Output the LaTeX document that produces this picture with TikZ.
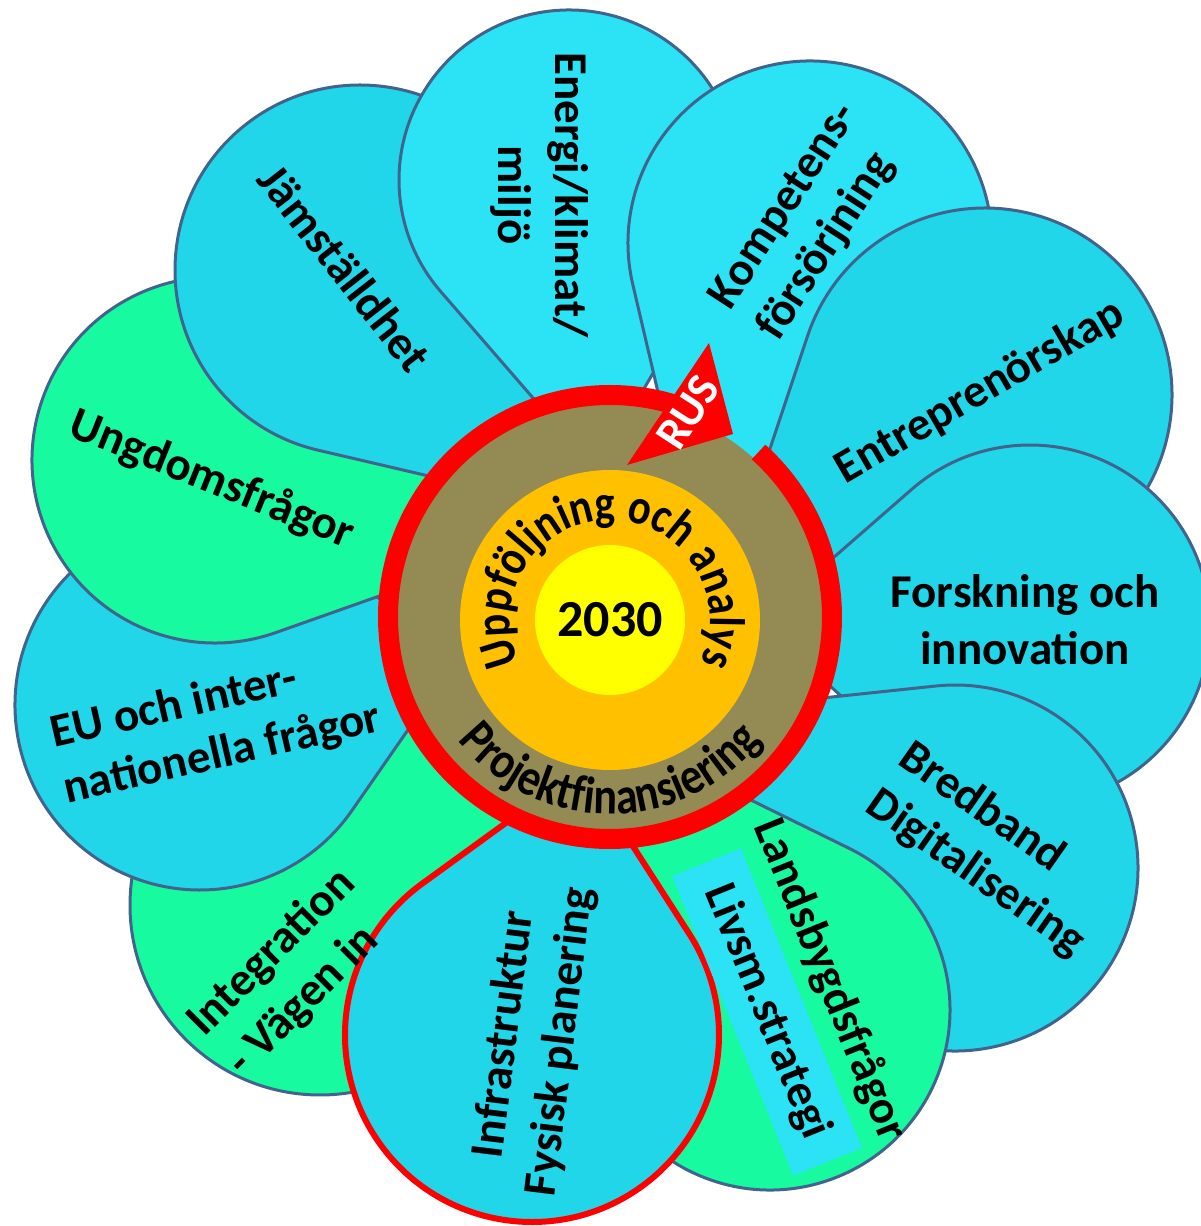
\documentclass[tikz,border=0pt]{standalone}
\usepackage{fontspec}
\setmainfont{Carlito}
\newfontfamily\archfont{Carlito}[FakeStretch=0.85]
\usetikzlibrary{decorations.text}

\definecolor{petalblue}{HTML}{22D6EA}
\definecolor{petalcyan}{HTML}{2CE3F6}
\definecolor{petalgreen}{HTML}{17FAA0}
\definecolor{petalline}{HTML}{41648C}
\definecolor{hubbrown}{HTML}{948A54}
\definecolor{huborange}{HTML}{FFC000}
\definecolor{hubyellow}{HTML}{FFFF00}
\definecolor{rusred}{HTML}{FF0000}

\tikzset{
	petal/.style={line join=round},
	petaltext/.style={font=\bfseries\fontsize{47}{57}\selectfont, align=center},
}

\begin{document}
\begin{tikzpicture}[x=1pt,y=1pt]
	\useasboundingbox (-610,-606) rectangle (591,620);
	% petals, drawn from the one lying lowest to the one on top
	\foreach \cx/\cy/\rad/\col/\edge/\lw in {
		-290/-285/190/petalgreen/petalline/3,
		-410/-85/185/petalblue/petalline/3,
		-395/160/183/petalgreen/petalline/3,
		-250/350/185/petalblue/petalline/3,
		-41/440/170/petalcyan/petalline/3,
		200/377/182/petalcyan/petalline/3,
		375/225/187/petalblue/petalline/3,
		420/-5/180/petalblue/petalline/3,
		345/-248/183/petalblue/petalline/3,
		160/-390/180/petalgreen/petalline/3,
		-78/-415/187/petalblue/rusred/6}{
		\pgfmathsetmacro\pang{atan2(\cy,\cx)}
		\pgfmathsetmacro\pdist{veclen(\cx,\cy)-150}
		\pgfmathsetmacro\pbeta{acos(\rad/\pdist)}
		\pgfmathsetmacro\pstart{\pang+180+\pbeta}
		\pgfmathsetmacro\pend{\pang+540-\pbeta}
		\draw[petal, draw=\edge, line width=\lw, fill=\col] (\pang:150)
			-- ([shift={(\cx,\cy)}]\pstart:\rad)
			arc[start angle=\pstart, end angle=\pend, radius=\rad] -- cycle;
	}
	% hub
	\path (0,3) coordinate (hub);
	\fill[hubbrown] (hub) circle[radius=214];
	\draw[rusred, line width=20] ([shift={(hub)}]48:222) arc[start angle=48, end angle=-290, radius=222];
	\path (99,277) coordinate (tip)
		(123,186) coordinate (wingR)
		(17,155) coordinate (wingL);
	\fill[rusred] (tip) -- (wingR) -- (wingL) -- cycle;
	\node[font=\bfseries\fontsize{46}{52}\selectfont, text=white, rotate=57] (rus) at (78,208) {RUS};
	\fill[huborange] (0,0) circle[radius=150];
	\fill[hubyellow] (0,0) circle[radius=75];
	\node[font=\bfseries\fontsize{52}{60}\selectfont] (year) at (0,0) {2030};
	\path[decorate, decoration={text along path, text align=center,
		text={|\archfont\bfseries\fontsize{50}{60}\selectfont|Uppföljning och analys}}]
		(230:100) arc[start angle=230, end angle=-50, radius=100];
	\path[decorate, decoration={text along path, text align=center,
		text={|\archfont\bfseries\fontsize{52}{60}\selectfont|Projektfinansiering}}]
		(180:194) arc[start angle=180, end angle=360, radius=194];
	% petal texts
	\node[petaltext, rotate=-90] (energi) at (-70,425) {Energi/klimat/\\miljö};
	\node[petaltext, rotate=-52] (jamst) at (-265,352) {Jämställdhet};
	\node[petaltext, align=left, rotate=57] (kompetens) at (199,398) {Kompetens-\\försörjning};
	\node[petaltext, rotate=30] (entre) at (370,228) {Entreprenörskap};
	\node[petaltext] (forskning) at (415,0) {Forskning och\\innovation};
	\node[petaltext, align=left, rotate=-35] (bredband) at (382,-230) {Bredband\\Digitalisering};
	\node[petaltext, rotate=-68] (landsbygd) at (220,-360) {Landsbygdsfrågor};
	\node[petaltext, fill=petalcyan, rotate=-68, minimum width=323, minimum height=74] (livsm) at (157,-392) {Livsm.strategi};
	\node[petaltext, rotate=83] (infra) at (-77,-418) {Infrastruktur\\Fysisk planering};
	\node[petaltext, align=left, rotate=45] (integration) at (-318,-353) {Integration\\- Vägen in};
	\node[petaltext, align=left, rotate=13] (eu) at (-394,-107) {EU och inter-\\nationella frågor};
	\node[petaltext, rotate=-22] (ungdom) at (-398,140) {Ungdomsfrågor};
\end{tikzpicture}
\end{document}
